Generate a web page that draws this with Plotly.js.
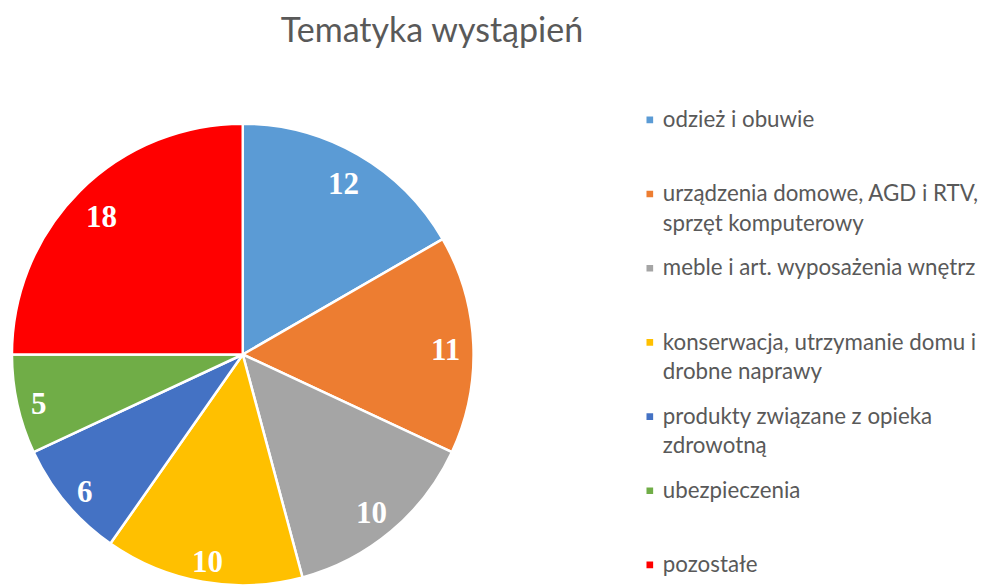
<!DOCTYPE html>
<html>
<head>
<meta charset="utf-8">
<script src="https://cdn.plot.ly/plotly-3.0.1.min.js"></script>
<style>
html,body{margin:0;padding:0;background:#fff;}
#chart{width:984px;height:586px;}
.legendpie{transform: translate(27px,0) scale(0.7);}
</style>
</head>
<body>
<div id="chart"></div>
<script>
const categories = [
  "odzież i obuwie",
  "urządzenia domowe, AGD i RTV,<br>sprzęt komputerowy",
  "meble i art. wyposażenia wnętrz",
  "konserwacja, utrzymanie domu i<br>drobne naprawy",
  "produkty związane z opieka<br>zdrowotną",
  "ubezpieczenia",
  "pozostałe"
];
const values = [12, 11, 10, 10, 6, 5, 18];
const colors = ["#5B9BD5", "#ED7D31", "#A5A5A5", "#FFC000", "#4472C4", "#70AD47", "#FF0000"];
const chartTitle = "Tematyka wystąpień";

// pie geometry (paper fractions)
const W = 984, H = 586;
const domX = [12 / W, 476 / W], domY = [0, 463 / H];

// pad legend labels to 3 lines (except the last) so entries are evenly spaced;
// the 2nd text line is shifted down slightly to widen the line gap
const legendLabels = categories.map((c, i) => {
  const parts = c.split("<br>");
  const lines = parts.map((s, j) =>
    '<span style="font-size:22.3px' + (j > 0 ? ';baseline-shift:-6px' : '') + '">' + s + '</span>');
  const pad = (i === categories.length - 1) ? 0 : 3 - parts.length;
  return lines.join("<br>") + "<br>\u00a0".repeat(pad);
});

const trace = {
  type: "pie",
  labels: legendLabels,
  values: values,
  sort: false,
  direction: "clockwise",
  rotation: 0,
  marker: {colors: colors, line: {color: "#ffffff", width: 2.5}},
  textinfo: "none",
  hoverinfo: "label+value",
  domain: {x: domX, y: domY}
};

// value labels placed near the outer edge along each slice's bisector
const labelSize = 31;
const total = values.reduce((a, b) => a + b, 0);
const cxPx = (domX[0] + domX[1]) / 2 * W;
const cyPx = H - (domY[0] + domY[1]) / 2 * H;
const Rpx = Math.min((domX[1] - domX[0]) * W, (domY[1] - domY[0]) * H) / 2;
let cum = 0;
const annotations = values.map(v => {
  const mid = (cum + v / 2) / total * 2 * Math.PI;
  cum += v;
  const txt = String(v);
  const hw = 0.25 * labelSize * txt.length, hh = 0.35 * labelSize;
  const ext = hw * Math.abs(Math.sin(mid)) + hh * Math.abs(Math.cos(mid));
  const r = Rpx - 12 - ext;
  const px = cxPx + r * Math.sin(mid);
  const py = cyPx - r * Math.cos(mid);
  return {
    x: px / W, y: 1 - py / H, xref: "paper", yref: "paper", yshift: -4,
    text: txt, showarrow: false, xanchor: "center", yanchor: "middle",
    font: {family: "Liberation Serif, Times New Roman, serif", size: labelSize, color: "#ffffff", weight: "bold"}
  };
});

const layout = {
  width: W, height: H,
  margin: {l: 0, r: 0, t: 0, b: 0},
  paper_bgcolor: "#ffffff",
  font: {family: "Lato, sans-serif", color: "#595959"},
  title: {text: chartTitle, x: 432 / W, xanchor: "center", y: 1 - 30 / H, yanchor: "middle",
          font: {family: "Lato, sans-serif", size: 34, color: "#595959"}},
  showlegend: true,
  legend: {x: 626 / W, xanchor: "left", y: 1 - 101.5 / H, yanchor: "top",
           font: {family: "Lato, sans-serif", size: 18.25, color: "#595959"},
           valign: "top", bgcolor: "rgba(0,0,0,0)", traceorder: "normal"},
  annotations: annotations
};

Plotly.newPlot("chart", [trace], layout, {displayModeBar: false, staticPlot: true});
</script>
</body>
</html>
